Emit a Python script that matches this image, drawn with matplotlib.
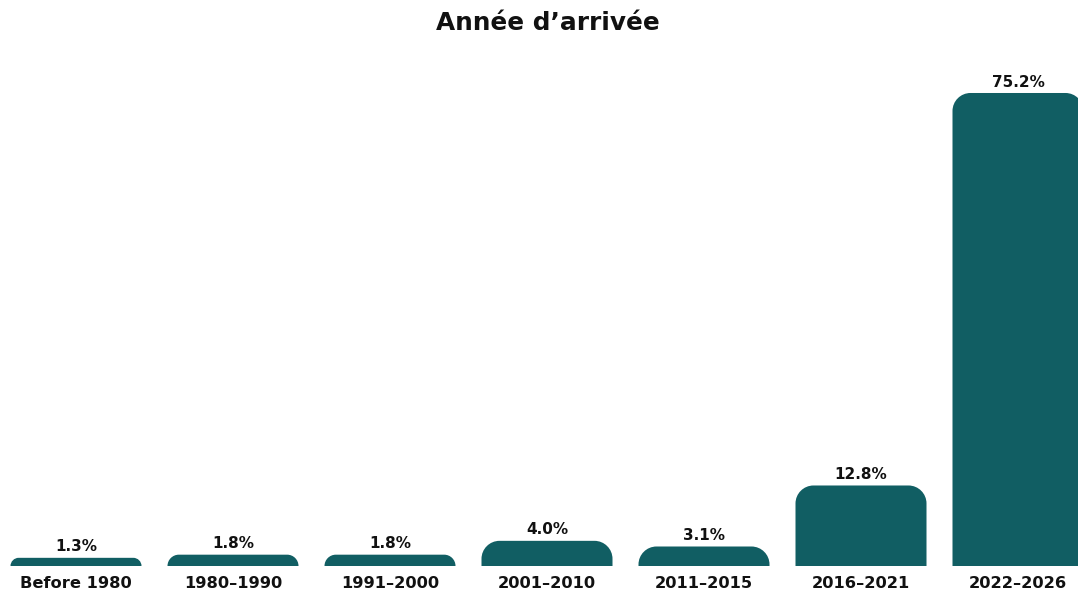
import matplotlib; matplotlib.use("Agg")
import matplotlib.pyplot as plt
from matplotlib.path import Path
from matplotlib.patches import PathPatch

# ── Data ───────────────────────────────────────────────────────────────────
periods = ["Before 1980", "1980–1990", "1991–2000", "2001–2010",
           "2011–2015", "2016–2021", "2022–2026"]
shares = [1.3, 1.8, 1.8, 4.0, 3.1, 12.8, 75.2]
title = "Année d’arrivée"

BAR_COLOR = "#115E63"
FONT = ["DejaVu Sans"]

W, H, DPI = 1078, 595, 100
fig = plt.figure(figsize=(W / DPI, H / DPI), dpi=DPI)

# axes spans the full width, baseline at 566 px from top
ax_bottom_px, ax_top_px = 566, 60
ax = fig.add_axes([0, 1 - ax_bottom_px / H, 1, (ax_bottom_px - ax_top_px) / H])

step_px = 157.0
first_center_px = 76.0
x0 = -first_center_px / step_px
x1 = (W - first_center_px) / step_px
ax.set_xlim(x0, x1)
ppy = 6.29                                  # px per percentage point
ax.set_ylim(0, (ax_bottom_px - ax_top_px) / ppy)
ppx = step_px
bar_w = 131 / step_px


def rounded_top_bar(xc, h, width, r_px=18):
    """Bar path with rounded top corners (circle in screen space)."""
    r = min(r_px, h * ppy, width * ppx / 2)
    rx, ry = r / ppx, r / ppy
    k = 0.5523
    xl, xr = xc - width / 2, xc + width / 2
    verts = [
        (xl, 0), (xl, h - ry),
        (xl, h - ry + k * ry), (xl + rx - k * rx, h), (xl + rx, h),
        (xr - rx, h),
        (xr - rx + k * rx, h), (xr, h - ry + k * ry), (xr, h - ry),
        (xr, 0), (xl, 0),
    ]
    codes = [Path.MOVETO, Path.LINETO,
             Path.CURVE4, Path.CURVE4, Path.CURVE4,
             Path.LINETO,
             Path.CURVE4, Path.CURVE4, Path.CURVE4,
             Path.LINETO, Path.CLOSEPOLY]
    return Path(verts, codes)


for i, (lab, v) in enumerate(zip(periods, shares)):
    ax.add_patch(PathPatch(rounded_top_bar(i, v, bar_w),
                           facecolor=BAR_COLOR, edgecolor="none"))
    ax.annotate(f"{v:.1f}%", (i, v), xytext=(0, 2.5), textcoords="offset points",
                ha="center", va="bottom", fontsize=11, fontweight="bold",
                family=FONT, color="#111111")

ax.set_xticks(range(len(periods)))
ax.set_xticklabels(periods, fontsize=11.7, fontweight="bold", family=FONT,
                   color="#111111")
ax.tick_params(axis="x", length=0, pad=7)
ax.set_yticks([])
for s in ax.spines.values():
    s.set_visible(False)

fig.text(548 / W, 1 - 23 / H, title, ha="center", va="center",
         fontsize=17.8, fontweight="bold", family=FONT, color="#111111")

fig.savefig("out.png", dpi=DPI)
